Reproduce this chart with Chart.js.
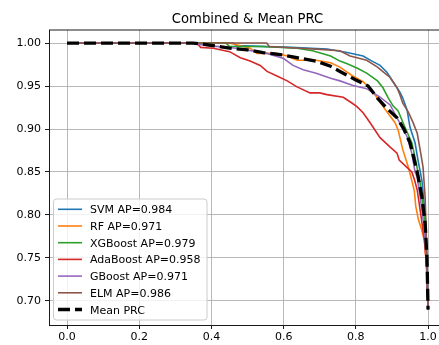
<!DOCTYPE html>
<html>
<head>
<meta charset="utf-8">
<title>Combined & Mean PRC</title>
<script src="https://cdn.jsdelivr.net/npm/chart.js@4.4.1/dist/chart.umd.min.js"></script>
<style>
  html, body { margin: 0; padding: 0; background: #fff; overflow: hidden; }
</style>
</head>
<body>
<canvas id="prcChart" width="439" height="345"></canvas>
<script>
// model names and average precision shown in the legend
const modelNames = ['SVM', 'RF', 'XGBoost', 'AdaBoost', 'GBoost', 'ELM'];
const apScores = [0.984, 0.971, 0.979, 0.958, 0.971, 0.986];

// precision-recall points
const svmRecall = [0, 0.46, 0.47, 0.62, 0.72, 0.776, 0.82, 0.845, 0.867, 0.886, 0.903, 0.922, 0.93, 0.942, 0.95, 0.964, 0.972, 0.983, 0.992, 0.997, 1.0];
const svmPrecision = [1.0, 1.0, 0.997, 0.995, 0.993, 0.989, 0.985, 0.979, 0.974, 0.966, 0.955, 0.943, 0.936, 0.922, 0.902, 0.884, 0.864, 0.84, 0.80, 0.75, 0.69];

const rfRecall = [0, 0.45, 0.507, 0.526, 0.58, 0.61, 0.637, 0.69, 0.73, 0.756, 0.79, 0.82, 0.848, 0.867, 0.886, 0.909, 0.917, 0.93, 0.945, 0.955, 0.962, 0.966, 0.973, 0.983, 0.99, 0.996, 1.0];
const rfPrecision = [1.0, 1.0, 0.994, 0.988, 0.988, 0.985, 0.98, 0.98, 0.977, 0.972, 0.962, 0.955, 0.943, 0.931, 0.92, 0.907, 0.899, 0.876, 0.856, 0.84, 0.828, 0.81, 0.795, 0.782, 0.77, 0.74, 0.69];

const xgbRecall = [0, 0.44, 0.45, 0.54, 0.637, 0.68, 0.73, 0.756, 0.776, 0.803, 0.83, 0.86, 0.875, 0.89, 0.903, 0.917, 0.936, 0.955, 0.964, 0.972, 0.978, 0.985, 0.992, 0.996, 1.0];
const xgbPrecision = [1.0, 1.0, 0.996, 0.996, 0.994, 0.991, 0.985, 0.979, 0.976, 0.971, 0.965, 0.956, 0.948, 0.936, 0.927, 0.921, 0.902, 0.884, 0.867, 0.85, 0.837, 0.815, 0.79, 0.75, 0.69];

const adaRecall = [0, 0.36, 0.37, 0.405, 0.45, 0.48, 0.507, 0.535, 0.554, 0.58, 0.61, 0.637, 0.673, 0.70, 0.72, 0.765, 0.79, 0.803, 0.82, 0.84, 0.867, 0.895, 0.914, 0.92, 0.94, 0.955, 0.963, 0.97, 0.98, 0.99, 0.996, 1.0];
const adaPrecision = [1.0, 1.0, 0.995, 0.994, 0.99, 0.983, 0.979, 0.974, 0.967, 0.962, 0.956, 0.949, 0.942, 0.942, 0.94, 0.937, 0.93, 0.926, 0.919, 0.907, 0.89, 0.879, 0.872, 0.864, 0.856, 0.85, 0.84, 0.829, 0.80, 0.77, 0.74, 0.69];

const gbRecall = [0, 0.34, 0.39, 0.47, 0.554, 0.60, 0.626, 0.654, 0.69, 0.73, 0.756, 0.79, 0.83, 0.867, 0.895, 0.914, 0.931, 0.942, 0.955, 0.964, 0.97, 0.978, 0.988, 0.995, 1.0];
const gbPrecision = [1.0, 1.0, 0.997, 0.994, 0.988, 0.982, 0.974, 0.969, 0.965, 0.959, 0.956, 0.951, 0.947, 0.937, 0.928, 0.913, 0.90, 0.891, 0.872, 0.85, 0.844, 0.821, 0.79, 0.75, 0.69];

const elmRecall = [0, 0.553, 0.56, 0.645, 0.69, 0.756, 0.784, 0.83, 0.86, 0.88, 0.895, 0.914, 0.922, 0.93, 0.945, 0.958, 0.97, 0.978, 0.986, 0.992, 0.996, 1.0];
const elmPrecision = [1.0, 1.0, 0.996, 0.994, 0.993, 0.991, 0.985, 0.98, 0.972, 0.965, 0.96, 0.948, 0.94, 0.93, 0.92, 0.908, 0.895, 0.876, 0.856, 0.82, 0.76, 0.69];

const meanRecall = [0, 0.35, 0.39, 0.45, 0.50, 0.543, 0.60, 0.637, 0.69, 0.73, 0.756, 0.80, 0.834, 0.86, 0.886, 0.914, 0.933, 0.95, 0.97, 0.983, 0.992, 0.997, 1.0];
const meanPrecision = [1.0, 1.0, 0.998, 0.994, 0.992, 0.989, 0.986, 0.983, 0.979, 0.973, 0.967, 0.957, 0.95, 0.936, 0.924, 0.913, 0.90, 0.884, 0.85, 0.821, 0.79, 0.75, 0.69];

// tick labels
const xTicks = [0.0, 0.2, 0.4, 0.6, 0.8, 1.0];
const yTicks = [0.70, 0.75, 0.80, 0.85, 0.90, 0.95, 1.00];

const recallSets = [svmRecall, rfRecall, xgbRecall, adaRecall, gbRecall, elmRecall];
const precisionSets = [svmPrecision, rfPrecision, xgbPrecision, adaPrecision, gbPrecision, elmPrecision];
const colors = ['#1f77b4', '#ff7f0e', '#2ca02c', '#d62728', '#9467bd', '#8c564b'];

function toPoints(rec, prec) {
    return rec.map((r, i) => ({ x: r, y: prec[i] }));
}

const datasets = modelNames.map((name, i) => ({
    label: name + ' AP=' + apScores[i].toFixed(3),
    data: toPoints(recallSets[i], precisionSets[i]),
    borderColor: colors[i],
    backgroundColor: colors[i],
    borderWidth: 1.6,
    showLine: true,
    pointRadius: 0,
    order: 10 - i
}));

datasets.push({
    label: 'Mean PRC',
    data: toPoints(meanRecall, meanPrecision),
    borderColor: '#000',
    backgroundColor: '#000',
    borderWidth: 3.3,
    borderDash: [12, 5],
    showLine: true,
    pointRadius: 0,
    order: 1
});

Chart.defaults.font.family = "'DejaVu Sans', sans-serif";
Chart.defaults.color = '#000';

// title centred over the (cropped) axes, top spine and the legend inside the plot
const decorations = {
    id: 'decorations',
    afterDatasetsDraw(chart) {
        const ctx = chart.ctx;
        const a = chart.chartArea;
        const xs = chart.scales.x;
        ctx.save();

        // top spine
        ctx.strokeStyle = '#000';
        ctx.lineWidth = 0.9;
        ctx.beginPath();
        ctx.moveTo(a.left, a.top);
        ctx.lineTo(a.right, a.top);
        ctx.stroke();

        // title, centred on the full axis range (-0.05 .. 1.05)
        const cx = (xs.getPixelForValue(-0.05) + xs.getPixelForValue(1.05)) / 2;
        ctx.fillStyle = '#000';
        ctx.font = "13.2px 'DejaVu Sans'";
        ctx.textAlign = 'center';
        ctx.textBaseline = 'alphabetic';
        ctx.fillText('Combined & Mean PRC', cx, 23.3);

        // legend
        const x0 = a.left + 4.5, y0 = a.bottom - 126;
        const w = 153.5, h = 121;
        ctx.beginPath();
        ctx.roundRect(x0, y0, w, h, 3);
        ctx.fillStyle = 'rgba(255,255,255,0.8)';
        ctx.fill();
        ctx.strokeStyle = '#cccccc';
        ctx.lineWidth = 1;
        ctx.stroke();

        ctx.font = "11px 'DejaVu Sans'";
        ctx.textAlign = 'left';
        chart.data.datasets.forEach((ds, i) => {
            const cy = y0 + 10.3 + i * 16.7;
            ctx.beginPath();
            ctx.strokeStyle = ds.borderColor;
            ctx.lineWidth = ds.borderWidth;
            ctx.setLineDash(ds.borderDash || []);
            ctx.moveTo(x0 + 4.5, cy);
            ctx.lineTo(x0 + 28.5, cy);
            ctx.stroke();
            ctx.setLineDash([]);
            ctx.fillStyle = '#000';
            ctx.fillText(ds.label, x0 + 36.5, cy + 4);
        });
        ctx.restore();
    }
};

const config = {
    type: 'scatter',
    data: { datasets: datasets },
    options: {
        responsive: false,
        animation: false,
        devicePixelRatio: 1,
        layout: { padding: { top: 30, left: 0, right: 0, bottom: 0 } },
        plugins: {
            legend: { display: false },
            title: { display: false },
            tooltip: { enabled: false }
        },
        scales: {
            x: {
                type: 'linear',
                min: -0.05,
                max: 1.0303,
                afterBuildTicks: s => { s.ticks = xTicks.map(v => ({ value: v })); },
                afterFit: s => { s.height = 20; },
                ticks: { callback: v => v.toFixed(1), font: { size: 11 }, padding: 2, maxRotation: 0 },
                grid: { color: '#b0b0b0', lineWidth: 0.9, tickLength: 4, tickColor: '#000', tickWidth: 0.9 },
                border: { color: '#000', width: 0.9 }
            },
            y: {
                type: 'linear',
                min: 0.672,
                max: 1.0152,
                afterBuildTicks: s => { s.ticks = yTicks.map(v => ({ value: v })); },
                afterFit: s => { s.width = 49; },
                ticks: { callback: v => v.toFixed(2), font: { size: 11 }, padding: 4 },
                grid: { color: '#b0b0b0', lineWidth: 0.9, tickLength: 4, tickColor: '#000', tickWidth: 0.9 },
                border: { color: '#000', width: 0.9 }
            }
        }
    },
    plugins: [decorations]
};

new Chart(document.getElementById('prcChart'), config);
</script>
</body>
</html>
